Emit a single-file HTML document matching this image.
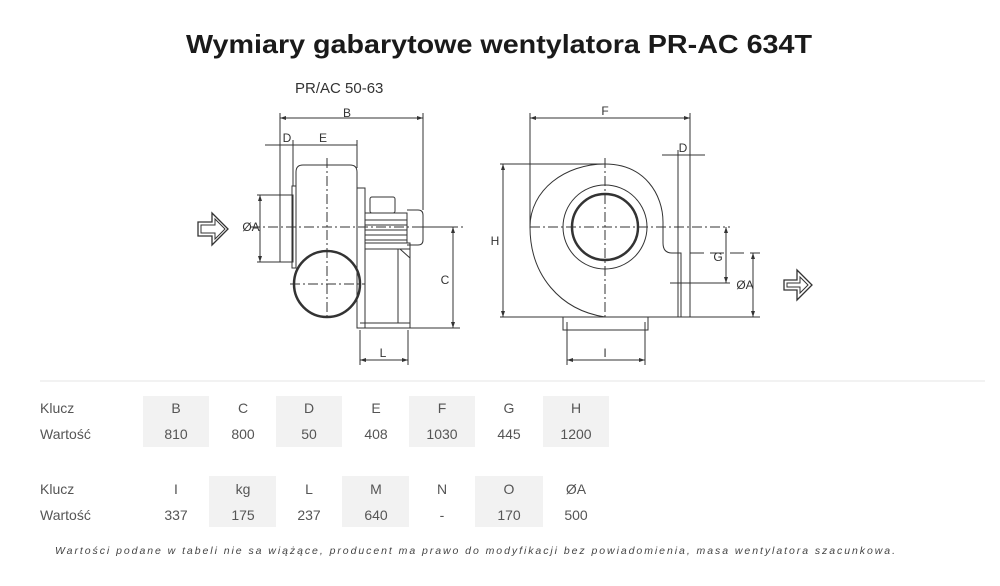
<!DOCTYPE html>
<html><head><meta charset="utf-8"><style>
html,body{margin:0;padding:0;background:#fff;}
svg{display:block;}
.t{font-family:"Liberation Sans",sans-serif;}
</style></head><body>
<svg width="1000" height="586" viewBox="0 0 1000 586" xmlns="http://www.w3.org/2000/svg">
<text class="t" x="186" y="53" font-size="26" font-weight="bold" textLength="626" lengthAdjust="spacingAndGlyphs" fill="#1a1a1a">Wymiary gabarytowe wentylatora PR-AC 634T</text>
<text class="t" x="295" y="93" font-size="15" fill="#333">PR/AC 50-63</text>

<g stroke="#333" fill="none" stroke-width="1">
<line x1="280" y1="118" x2="423" y2="118"/>
<line x1="280" y1="113" x2="280" y2="195"/>
<line x1="423" y1="113" x2="423" y2="210"/>
<line x1="265" y1="145" x2="357" y2="145"/>
<line x1="293" y1="140" x2="293" y2="186"/>
<line x1="357" y1="140" x2="357" y2="168"/>
<path d="M296,268 L296,172 Q296,165 303,165 L350,165 Q357,165 357,172 L357,268"/>
<rect x="280" y="195" width="13" height="67"/>
<rect x="292" y="186" width="4" height="82"/>
<circle cx="327" cy="284" r="33" stroke-width="2.5"/>
<rect x="357" y="188" width="8" height="140"/>
<rect x="370" y="197" width="25" height="16" rx="2"/>
<rect x="365" y="213" width="42" height="30"/>
<path d="M365,220 H407 M365,225 H407 M365,230 H407 M365,235 H407 M365,240 H407"/>
<path d="M407,210 H418 Q423,210 423,215 V240 Q423,245 418,245 H407"/>
<rect x="365" y="243" width="45" height="6"/>
<path d="M400,249 L410,258 M398,249 V323 M410,249 V328"/>
<line x1="360" y1="323" x2="410" y2="323"/>
<line x1="360" y1="328" x2="460" y2="328"/>
<line x1="260" y1="195" x2="260" y2="262"/>
<line x1="257" y1="195" x2="280" y2="195"/>
<line x1="257" y1="262" x2="280" y2="262"/>
<line x1="453" y1="227" x2="453" y2="328"/>
<line x1="415" y1="227" x2="458" y2="227"/>
<line x1="360" y1="330" x2="360" y2="365"/>
<line x1="408" y1="330" x2="408" y2="365"/>
<line x1="360" y1="360" x2="408" y2="360"/>
<line x1="250" y1="227" x2="465" y2="227" stroke-dasharray="10,3,2,3"/>
<line x1="327" y1="158" x2="327" y2="320" stroke-dasharray="10,3,2,3"/>
<line x1="290" y1="284" x2="365" y2="284" stroke-dasharray="10,3,2,3"/>
<path d="M198,222 H212 V213 L228,229 L212,245 V236 H198 Z" stroke-width="1.3"/>
<path d="M201,225 H215 V219 L225,229 L215,239 V233 H201 Z"/>

<line x1="530" y1="118" x2="690" y2="118"/>
<line x1="530" y1="113" x2="530" y2="228"/>
<line x1="690" y1="113" x2="690" y2="317"/>
<line x1="662" y1="155" x2="705" y2="155"/>
<line x1="678" y1="150" x2="678" y2="317"/>
<line x1="503" y1="164" x2="503" y2="317"/>
<line x1="500" y1="164" x2="605" y2="164"/>
<line x1="500" y1="317" x2="690" y2="317"/>
<path d="M605,317 C560,310 530,275 530,227 C530,190 565,164 605,164 C645,164 663,195 663,222 L663,243 Q663,253 672,253 L678,253"/>
<circle cx="605" cy="227" r="42"/>
<circle cx="605" cy="227" r="33" stroke-width="2.5"/>
<rect x="678" y="253" width="3" height="64"/>
<rect x="563" y="317" width="85" height="13"/>
<line x1="567" y1="322" x2="567" y2="365"/>
<line x1="645" y1="322" x2="645" y2="365"/>
<line x1="567" y1="360" x2="645" y2="360"/>
<line x1="530" y1="227" x2="730" y2="227" stroke-dasharray="10,3,2,3"/>
<line x1="605" y1="158" x2="605" y2="320" stroke-dasharray="10,3,2,3"/>
<line x1="726" y1="227" x2="726" y2="283"/>
<line x1="670" y1="283" x2="730" y2="283"/>
<line x1="690" y1="253" x2="760" y2="253" stroke-dasharray="14,6"/>
<line x1="753" y1="253" x2="753" y2="317"/>
<line x1="690" y1="317" x2="760" y2="317"/>
<path d="M784,280 H797 V270 L812,285 L797,300 V290 H784 Z" stroke-width="1.3"/>
<path d="M787,283 H800 V277 L808,285 L800,293 V287 H787 Z"/>
</g>
<g fill="#333">
<path d="M280,118 l6,-2 v4z M423,118 l-6,-2 v4z M530,118 l6,-2 v4z M690,118 l-6,-2 v4z"/>
<path d="M503,164 l-2,6 h4z M503,317 l-2,-6 h4z M453,227 l-2,6 h4z M453,328 l-2,-6 h4z"/>
<path d="M260,195 l-2,6 h4z M260,262 l-2,-6 h4z M726,227 l-2,6 h4z M726,283 l-2,-6 h4z M753,253 l-2,6 h4z M753,317 l-2,-6 h4z"/>
<path d="M360,360 l6,-2 v4z M408,360 l-6,-2 v4z M567,360 l6,-2 v4z M645,360 l-6,-2 v4z"/>
</g>
<g class="t" font-size="12" fill="#333" text-anchor="middle">
<text x="347" y="117">B</text><text x="287" y="142">D</text><text x="323" y="142">E</text>
<text x="251" y="231">ØA</text><text x="445" y="284">C</text><text x="383" y="357">L</text>
<text x="605" y="115">F</text><text x="683" y="152">D</text><text x="495" y="245">H</text>
<text x="718" y="261">G</text><text x="745" y="289">ØA</text><text x="605" y="357">I</text>
</g>

<line x1="40" y1="381" x2="985" y2="381" stroke="#e4e4e4"/>
<g fill="#f2f2f2">
<rect x="143" y="396" width="66" height="51"/><rect x="276" y="396" width="66" height="51"/>
<rect x="409" y="396" width="66" height="51"/><rect x="543" y="396" width="66" height="51"/>
<rect x="209" y="476" width="67" height="51"/><rect x="342" y="476" width="67" height="51"/>
<rect x="475" y="476" width="68" height="51"/>
</g>
<g class="t" font-size="14" fill="#555">
<text x="40" y="413">Klucz</text><text x="40" y="439">Wartość</text>
<text x="40" y="494">Klucz</text><text x="40" y="520">Wartość</text>
</g>
<g class="t" font-size="14" fill="#555" text-anchor="middle">
<text x="176" y="413">B</text><text x="243" y="413">C</text><text x="309" y="413">D</text><text x="376" y="413">E</text><text x="442" y="413">F</text><text x="509" y="413">G</text><text x="576" y="413">H</text>
<text x="176" y="439">810</text><text x="243" y="439">800</text><text x="309" y="439">50</text><text x="376" y="439">408</text><text x="442" y="439">1030</text><text x="509" y="439">445</text><text x="576" y="439">1200</text>
<text x="176" y="494">I</text><text x="243" y="494">kg</text><text x="309" y="494">L</text><text x="376" y="494">M</text><text x="442" y="494">N</text><text x="509" y="494">O</text><text x="576" y="494">ØA</text>
<text x="176" y="520">337</text><text x="243" y="520">175</text><text x="309" y="520">237</text><text x="376" y="520">640</text><text x="442" y="520">-</text><text x="509" y="520">170</text><text x="576" y="520">500</text>
</g>
<text class="t" x="55" y="554" font-size="10.5" font-style="italic" fill="#444" textLength="840" lengthAdjust="spacing">Wartości podane w tabeli nie sa wiążące, producent ma prawo do modyfikacji bez powiadomienia, masa wentylatora szacunkowa.</text>
</svg>
</body></html>
